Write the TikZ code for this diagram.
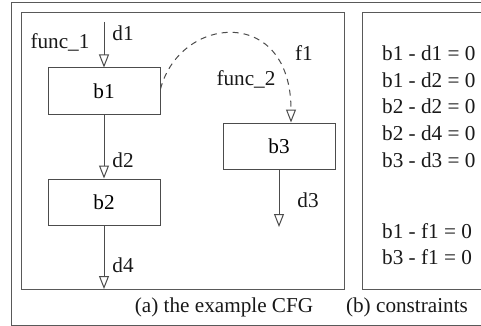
\documentclass[tikz,border=0pt]{standalone}
\usepackage{fontspec}
\setmainfont{Liberation Serif}
\usetikzlibrary{arrows.meta}
\begin{document}
\begin{tikzpicture}[x=1pt,y=-1pt, font=\fontsize{21.2}{25}\selectfont,
  frame/.style={draw=black!65, line width=1pt},
  blk/.style={draw=black!70, line width=1pt, minimum width=112pt, minimum height=46pt, inner sep=0pt},
  flow/.style={draw=black!70, line width=1pt, -{Triangle[open,length=13pt,width=10pt]}},
  call/.style={flow, dashed, dash pattern=on 6pt off 5pt},
  lbl/.style={inner sep=0pt, text=black!90}]
\useasboundingbox (0,0) rectangle (481,326);
\clip (0,0) rectangle (481,326);
\fill[white] (0,0) rectangle (481,326);
% frames
\draw[frame] (11,3) rectangle (520,325);
\draw[frame] (21,13) rectangle (344,289);
\draw[frame] (362,13) rectangle (520,289);
% blocks
\node[blk] (b1) at (104,91) {b1};
\node[blk] (b2) at (104,202) {b2};
\node[blk] (b3) at (279,146) {b3};
% free ends
\coordinate (d1s) at (104,22);
\coordinate (d4e) at (104,289);
\coordinate (d3e) at (279,227);
% connectors
\draw[flow] (d1s) -- (b1.north);
\draw[flow] (b1.south) -- (b2.north);
\draw[flow] (b2.south) -- (d4e);
\draw[flow] (b3.south) -- (d3e);
\draw[call] (b1.east |- 0,89) .. controls (180,15) and (291,5) .. (b3.north -| 291,0);
% labels
\node[lbl] (func1) at (60,42) {func\_1};
\node[lbl] (d1) at (123,33) {d1};
\node[lbl] (d2) at (123,160) {d2};
\node[lbl] (d4) at (123,265) {d4};
\node[lbl] (func2) at (246,79) {func\_2};
\node[lbl] (f1) at (304,53) {f1};
\node[lbl] (d3) at (308,200) {d3};
% constraints
\node[lbl, anchor=west] (c1) at (382,53) {b1 - d1 = 0};
\node[lbl, anchor=west] (c2) at (382,80) {b1 - d2 = 0};
\node[lbl, anchor=west] (c3) at (382,106) {b2 - d2 = 0};
\node[lbl, anchor=west] (c4) at (382,133) {b2 - d4 = 0};
\node[lbl, anchor=west] (c5) at (382,160) {b3 - d3 = 0};
\node[lbl, anchor=west] (c6) at (382,231) {b1 - f1 = 0};
\node[lbl, anchor=west] (c7) at (382,257) {b3 - f1 = 0};
% captions
\node[lbl] (capa) at (224,307) {(a) the example CFG};
\node[lbl] (capb) at (407,307) {(b) constraints};
\end{tikzpicture}
\end{document}
